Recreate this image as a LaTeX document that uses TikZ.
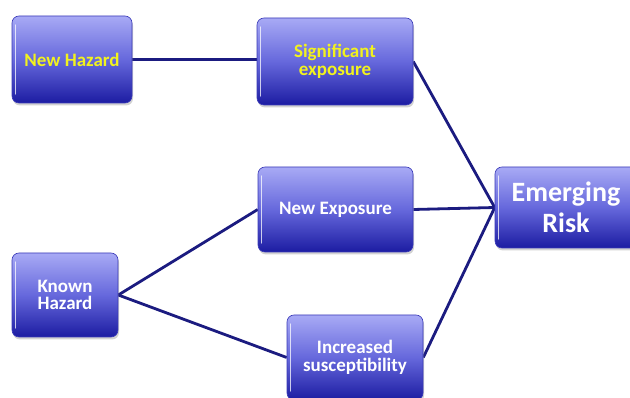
\documentclass[tikz,border=0pt]{standalone}
\usepackage{fontspec}
\setmainfont{Carlito}
\usetikzlibrary{shadows,backgrounds}

\definecolor{boxtop}{HTML}{A8AAF5}
\definecolor{boxmid}{HTML}{6668DC}
\definecolor{boxbot}{HTML}{1C1CA2}
\definecolor{boxedge}{HTML}{3A3AB8}
\definecolor{linkcol}{HTML}{1B1B80}
\definecolor{hazyellow}{HTML}{F2F21E}

\tikzset{
  glossbox/.style={
    rounded corners=7pt, draw=boxedge, line width=0.6pt,
    top color=boxtop, bottom color=boxbot, middle color=boxmid,
    drop shadow={shadow xshift=1pt, shadow yshift=-2.5pt, opacity=0.35},
    font=\bfseries\fontsize{19}{17.5}\selectfont, align=center,
    inner sep=0pt,
    path picture={
      \draw[white, opacity=0.75, line width=1.3pt, line cap=round]
        ([xshift=3.5pt,yshift=-9pt]path picture bounding box.north west) --
        ([xshift=3.5pt,yshift=9pt]path picture bounding box.south west);
    }
  },
  yellowtext/.style={text=hazyellow},
  whitetext/.style={text=white},
  link/.style={draw=linkcol, line width=2.8pt}
}

\begin{document}
\begin{tikzpicture}[x=1pt,y=-1pt]
  \useasboundingbox (0,0) rectangle (630,398);

  % hazard / exposure boxes
  \node[glossbox, yellowtext, minimum width=120pt, minimum height=87pt] (nh) at (72,59.5) {New Hazard};
  \node[glossbox, yellowtext, minimum width=156pt, minimum height=87pt] (se) at (335,61.5) {Significant\\exposure};
  \node[glossbox, whitetext, minimum width=155pt, minimum height=85pt] (ne) at (335.5,209.5) {New Exposure};
  \node[glossbox, whitetext, minimum width=106pt, minimum height=84pt] (kh) at (65,295) {Known\\Hazard};
  \node[glossbox, whitetext, minimum width=136pt, minimum height=85pt] (is) at (355,357.5) {Increased\\susceptibility};
  \node[glossbox, whitetext, minimum width=142pt, minimum height=81pt,
        font=\bfseries\fontsize{28}{31}\selectfont] (er) at (566,207.5) {Emerging\\Risk};

  % white page and connectors, behind the boxes
  \begin{scope}[on background layer]
    \fill[white] (0,0) rectangle (630,398);
    \draw[link] (nh.east) -- (nh.east -| se.west);
    \draw[link] (se.east) -- (er.west);
    \draw[link] (ne.east) -- (er.west);
    \draw[link] (is.east) -- (er.west);
    \draw[link] (kh.east) -- (ne.west);
    \draw[link] (kh.east) -- (is.west);
  \end{scope}
\end{tikzpicture}
\end{document}
